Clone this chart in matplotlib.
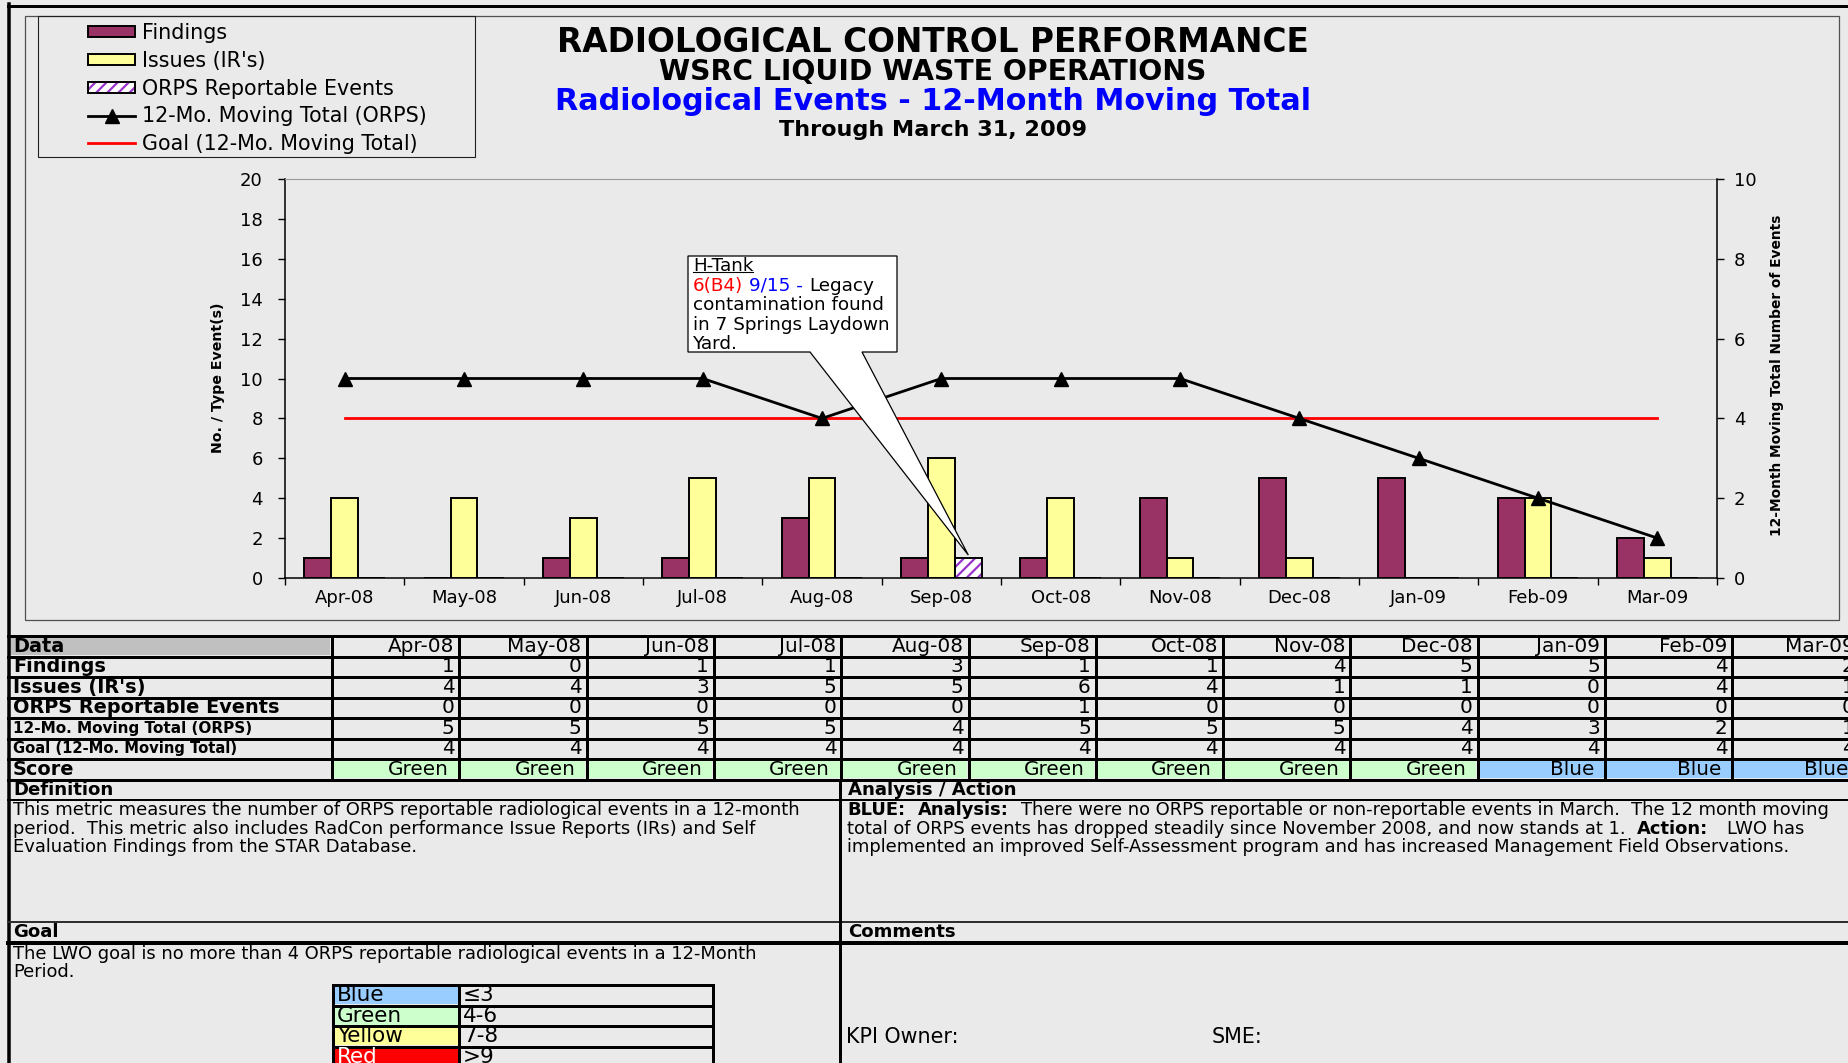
import numpy as np
import matplotlib
matplotlib.use('Agg')
import matplotlib.pyplot as plt
from matplotlib.patches import Rectangle, Polygon
from matplotlib.legend_handler import HandlerTuple

# ---------------- data ----------------
months = ['Apr-08', 'May-08', 'Jun-08', 'Jul-08', 'Aug-08', 'Sep-08',
          'Oct-08', 'Nov-08', 'Dec-08', 'Jan-09', 'Feb-09', 'Mar-09']
findings = [1, 0, 1, 1, 3, 1, 1, 4, 5, 5, 4, 2]
issues = [4, 4, 3, 5, 5, 6, 4, 1, 1, 0, 4, 1]
orps_events = [0, 0, 0, 0, 0, 1, 0, 0, 0, 0, 0, 0]
moving_total = [5, 5, 5, 5, 4, 5, 5, 5, 4, 3, 2, 1]
goal_total = [4, 4, 4, 4, 4, 4, 4, 4, 4, 4, 4, 4]
scores = ['Green', 'Green', 'Green', 'Green', 'Green', 'Green',
          'Green', 'Green', 'Green', 'Blue', 'Blue', 'Blue']
left_ticks = [0, 2, 4, 6, 8, 10, 12, 14, 16, 18, 20]
right_ticks = [0, 2, 4, 6, 8, 10]
series_names = ['Findings', "Issues (IR's)", 'ORPS Reportable Events',
                '12-Mo. Moving Total (ORPS)', 'Goal (12-Mo. Moving Total)']
score_scale = [('Blue', '\u22643'), ('Green', '4-6'), ('Yellow', '7-8'), ('Red', '>9')]

# ---------------- style ----------------
W, H, DPI = 1849, 1063, 100
BG = '#EAEAEA'
C_FIND = '#993366'
C_ISS = '#FFFF99'
C_HATCH = '#9933CC'
SCORE_COL = {'Green': '#CCFFCC', 'Blue': '#99CCFF', 'Yellow': '#FFFF99', 'Red': '#FF0000'}

plt.rcParams['font.family'] = ['DejaVu Sans']
plt.rcParams['hatch.linewidth'] = 1.6

fig = plt.figure(figsize=(W / DPI, H / DPI), dpi=DPI, facecolor=BG)
R = fig.canvas.get_renderer()


def frac(l, t, r, b):
    return [l / W, 1 - b / H, (r - l) / W, (b - t) / H]


def adv(s, size, weight='normal'):
    t1 = fig.text(0, 0, '|' + s + '|', fontsize=size, fontweight=weight)
    t2 = fig.text(0, 0, '||', fontsize=size, fontweight=weight)
    w = t1.get_window_extent(R).width - t2.get_window_extent(R).width
    t1.remove()
    t2.remove()
    return w


def fit(s, target, weight='normal', base=20.0):
    return base * target / adv(s, base, weight)


# ---------------- chart ----------------
ax = fig.add_axes(frac(285, 179, 1717, 578))
ax.set_facecolor(BG)
ax2 = ax.twinx()

x = np.arange(len(months))
bw = 0.226
b_f = ax.bar(x - bw, findings, bw, color=C_FIND, edgecolor='black', lw=1.4, zorder=3)
b_i = ax.bar(x, issues, bw, color=C_ISS, edgecolor='black', lw=1.4, zorder=3)
b_h = ax.bar(x + bw, orps_events, bw, color='white', edgecolor=C_HATCH, hatch='///', lw=0, zorder=3)
b_o = ax.bar(x + bw, orps_events, bw, fill=False, edgecolor='black', lw=1.4, zorder=4)

ln_goal, = ax2.plot(x, goal_total, color='#FF0000', lw=2.0, zorder=4)
ln_mt, = ax2.plot(x, moving_total, color='black', lw=2.0, marker='^', ms=10.5, zorder=5)

ax.set_xlim(-0.5, len(months) - 0.5)
ax.set_ylim(0, 20)
ax.set_yticks(left_ticks)
ax2.set_ylim(0, 10)
ax2.set_yticks(right_ticks)
ax.set_xticks(x)
ax.set_xticklabels(months)
ax.set_xticks(np.arange(-0.5, len(months), 1.0), minor=True)
ax.tick_params(axis='x', which='major', length=0, pad=8, labelsize=13)
ax.tick_params(axis='x', which='minor', length=5, width=1, direction='out')
ax.tick_params(axis='y', length=5, width=1, direction='out', pad=11, labelsize=13)
ax2.tick_params(axis='y', length=5, width=1, direction='out', pad=7, labelsize=13)
for s in ['left', 'bottom']:
    ax.spines[s].set_color('black')
    ax.spines[s].set_linewidth(1.1)
ax.spines['top'].set_color('#9A9A9A')
ax.spines['right'].set_visible(False)
for s in ['left', 'bottom', 'top']:
    ax2.spines[s].set_visible(False)
ax2.spines['right'].set_color('black')
ax2.spines['right'].set_linewidth(1.1)

# ---------------- overlay (pixel coordinates) ----------------
ovl = fig.add_axes([0, 0, 1, 1], zorder=10)
ovl.set_xlim(0, W)
ovl.set_ylim(H, 0)
ovl.axis('off')


def seg(x0, y0, x1, y1, px=1.0, color='black', z=6):
    ovl.plot([x0, x1], [y0, y1], color=color, lw=px * 72 / DPI,
             solid_capstyle='projecting', zorder=z)


def txt(xp, yp, s, size, weight='normal', color='black', ha='left', **kw):
    return ovl.text(xp, yp, s, fontsize=size, fontweight=weight, color=color,
                    ha=ha, va='center', zorder=12, **kw)


def draw_runs(xp, yp, parts, size):
    for s, wt, col in parts:
        txt(xp, yp, s.rstrip(), size, wt, col)
        xp += adv(s, size, wt)
    return xp


# frames
seg(8.5, 4, 8.5, H, px=3.5)
seg(8, 5.5, W, 5.5, px=3)
ovl.add_patch(Rectangle((25, 16), 1839 - 25, 620 - 16, fill=False,
                        edgecolor='#505050', lw=0.9, zorder=5))

# titles
cx = 933
titles = [('RADIOLOGICAL CONTROL PERFORMANCE', 749, 43, 'black'),
          ('WSRC LIQUID WASTE OPERATIONS', 546, 72, 'black'),
          ('Radiological Events - 12-Month Moving Total', 760, 101, '#0000FF'),
          ('Through March 31, 2009', 308, 130, 'black')]
for s, wpx, yp, col in titles:
    txt(cx, yp, s, fit(s, wpx, 'bold'), 'bold', col, ha='center')

# axis labels
lab_l = 'No. / Type Event(s)'
lab_r = '12-Month Moving Total Number of Events'
txt(218, 378, lab_l, fit(lab_l, 150, 'bold'), 'bold', ha='center', rotation=90)
txt(1777, 375, lab_r, fit(lab_r, 320, 'bold'), 'bold', ha='center', rotation=90)

# legend
ovl.add_patch(Rectangle((38, 16), 475 - 38, 157 - 16, fill=False,
                        edgecolor='#202020', lw=0.8, zorder=5))
fs_leg = fit('12-Mo. Moving Total (ORPS)', 285)
S = fs_leg * DPI / 72
leg = ovl.legend([b_f, b_i, (b_h, b_o), ln_mt, ln_goal], series_names,
                 handler_map={tuple: HandlerTuple(ndivide=1)},
                 loc='upper left', bbox_to_anchor=(88, 32 - 0.42 * S),
                 bbox_transform=ovl.transData, frameon=False,
                 prop={'size': fs_leg}, handlelength=47 / S, handleheight=9 / S,
                 handletextpad=7 / S, labelspacing=(27.7 - 0.97 * S) / S,
                 borderpad=0, borderaxespad=0, numpoints=1)

# callout
i_ev = int(np.argmax(orps_events))
tip_disp = ax.transData.transform((x[i_ev] + bw, orps_events[i_ev] + 0.15))
tip = ovl.transData.inverted().transform(tip_disp)
pts = [(688, 256), (897, 256), (897, 352), (862, 352), tuple(tip), (810, 352), (688, 352)]
ovl.add_patch(Polygon(pts, closed=True, facecolor='white', edgecolor='black',
                      lw=0.9, zorder=8, joinstyle='miter'))
fs_c = fit('in 7 Springs Laydown', 197)
txt(693, 266, 'H-Tank', fs_c)
seg(693, 272, 693 + adv('H-Tank', fs_c) - 1, 272, px=1.1, z=12)
draw_runs(693, 286, [('6(B4) ', 'normal', '#FF0000'), ('9/15 - ', 'normal', '#0000FF'),
                     ('Legacy', 'normal', 'black')], fs_c)
txt(693, 305, 'contamination found', fs_c)
txt(693, 324.5, 'in 7 Springs Laydown', fs_c)
txt(693, 344, 'Yard.', fs_c)

# ---------------- data table ----------------
col_x0, col_w = 332.0, 127.3
row_y = [636, 656.5, 677, 697.5, 718, 738.5, 759, 779.5]
ncol = len(months)

ovl.add_patch(Rectangle((10, 638), 330 - 10, 655 - 638, facecolor='#C0C0C0',
                        edgecolor='none', zorder=4))
for j, sc in enumerate(scores):
    ovl.add_patch(Rectangle((col_x0 + j * col_w + 1.5, row_y[6] + 1.5), col_w - 3,
                            row_y[7] - row_y[6] - 3, facecolor=SCORE_COL[sc],
                            edgecolor='none', zorder=4))
for yy in row_y:
    seg(8, yy, W, yy, px=3)
for j in range(ncol + 1):
    xx = col_x0 + j * col_w
    seg(xx, row_y[0], xx, row_y[-1], px=3)

fs_big = fit('ORPS Reportable Events', 265, 'bold')
fs_small = fit('12-Mo. Moving Total (ORPS)', 240, 'bold')
fs_val = fit('Apr-08', 66)
labels_tbl = ['Data'] + series_names + ['Score']
sizes_tbl = [fs_big, fs_big, fs_big, fs_big, fs_small, fs_small * 0.97, fs_big]
for r, (lab, fsz) in enumerate(zip(labels_tbl, sizes_tbl)):
    yc = (row_y[r] + row_y[r + 1]) / 2
    txt(13, yc, lab, fsz, 'bold')

value_rows = [months, findings, issues, orps_events, moving_total, goal_total]
for r, vals in enumerate(value_rows):
    yc = (row_y[r] + row_y[r + 1]) / 2
    for j, v in enumerate(vals):
        txt(col_x0 + (j + 1) * col_w - 5, yc, str(v), fs_val, ha='right')
yc = (row_y[6] + row_y[7]) / 2
for j, sc in enumerate(scores):
    txt(col_x0 + (j + 1) * col_w - 11, yc, sc, fs_val, ha='right')

# ---------------- text sections ----------------
seg(8, 800, W, 800, px=2)
seg(8, 922, W, 922, px=2, color='#303030')
seg(8, 942.5, W, 942.5, px=4)
seg(840, 779.5, 840, H, px=3)

fs_hdr = fit('Analysis / Action', 170, 'bold')
txt(13, 790, 'Definition', fs_hdr, 'bold')
txt(848, 790, 'Analysis / Action', fs_hdr, 'bold')
txt(13, 932, 'Goal', fs_hdr, 'bold')
txt(848, 932, 'Comments', fs_hdr, 'bold')

def_lines = ['This metric measures the number of ORPS reportable radiological events in a 12-month',
             'period.  This metric also includes RadCon performance Issue Reports (IRs) and Self',
             'Evaluation Findings from the STAR Database.']
fs_def = fit(def_lines[0], 785)
for s, yp in zip(def_lines, [810, 828.5, 847]):
    txt(13, yp, s, fs_def)
goal_lines = ['The LWO goal is no more than 4 ORPS reportable radiological events in a 12-Month',
              'Period.']
for s, yp in zip(goal_lines, [954, 972]):
    txt(13, yp, s, fs_def)

an1 = [('BLUE:  ', 'bold', 'black'), ('Analysis:  ', 'bold', 'black'),
       ('There were no ORPS reportable or non-reportable events in March.  The 12 month moving',
        'normal', 'black')]
an2 = [('total of ORPS events has dropped steadily since November 2008, and now stands at 1.  ',
        'normal', 'black'), ('Action:   ', 'bold', 'black'), ('LWO has', 'normal', 'black')]
an3 = [('implemented an improved Self-Assessment program and has increased Management Field Observations.',
        'normal', 'black')]
w1 = sum(adv(s, 20, wt) for s, wt, _ in an1)
fs_an = 20 * 983 / w1
draw_runs(847, 810, an1, fs_an)
draw_runs(847, 828.5, an2, fs_an)
draw_runs(847, 847, an3, fs_an)

# score scale table
sy = [985, 1005.5, 1026, 1046.5, 1067]
fs_sc = fit('Yellow', 66)
for k, (name, rng) in enumerate(score_scale):
    ovl.add_patch(Rectangle((334, sy[k] + 1.5), 459 - 334, sy[k + 1] - sy[k] - 3,
                            facecolor=SCORE_COL[name], edgecolor='none', zorder=4))
    yc = (sy[k] + sy[k + 1]) / 2
    txt(337, yc, name, fs_sc, color='white' if name == 'Red' else 'black')
    txt(463, yc, rng, fs_sc)
for yy in sy:
    seg(333, yy, 713, yy, px=3)
for xx in [333, 459, 713]:
    seg(xx, sy[0], xx, H, px=3)

fs_kpi = fit('KPI Owner:', 113)
txt(846, 1037, 'KPI Owner:', fs_kpi)
txt(1212, 1037, 'SME:', fs_kpi)

fig.savefig('out.png', dpi=DPI, facecolor=BG)
